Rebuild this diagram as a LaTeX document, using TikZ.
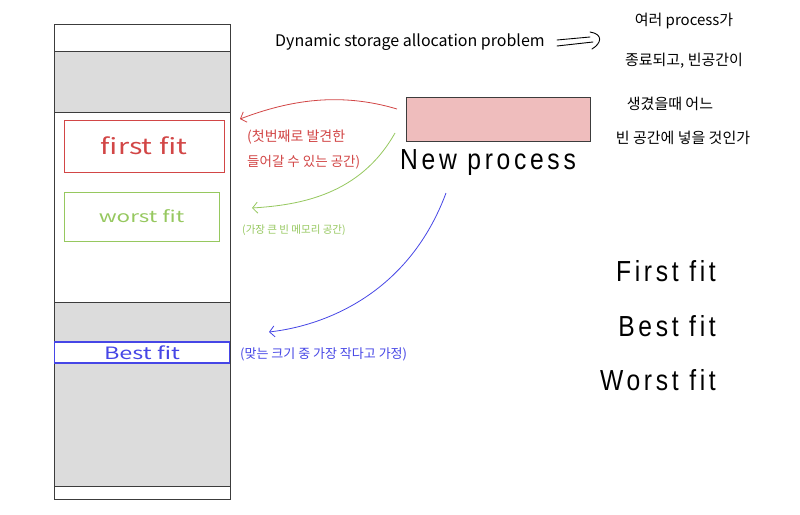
\documentclass[tikz,border=0pt]{standalone}
\usepackage{fontspec}
\setmainfont{Liberation Sans}
\newfontfamily\kr{Noto Sans CJK KR}
\newfontfamily\cond[LetterSpace=15]{Liberation Sans}
\usetikzlibrary{arrows.meta}
\definecolor{redc}{RGB}{210,70,70}
\definecolor{greenc}{RGB}{150,200,95}
\definecolor{bluec}{RGB}{70,70,230}
\definecolor{memgray}{RGB}{220,220,220}
\definecolor{pinkc}{RGB}{239,189,189}
\definecolor{edge}{RGB}{60,60,60}
\tikzset{
  memline/.style={draw=edge, line width=0.8pt},
  fitbox/.style={line width=1pt, inner sep=0pt, fill=white},
  hand/.style={font=\kr\fontsize{#1}{#1}\selectfont, inner sep=0pt},
  bigtext/.style={font=\cond\fontsize{29}{32}\selectfont, xscale=0.85, inner sep=0pt},
  curvearrow/.style={line width=0.8pt, -{Straight Barb[length=5pt,width=11pt]}},
  penline/.style={line width=0.9pt, line cap=round},
}
\begin{document}
\begin{tikzpicture}[x=1pt,y=-1pt]
\useasboundingbox (0,0) rectangle (800,514);
\fill[white] (0,0) rectangle (800,514);

% memory column
\fill[memgray] (54,51) rectangle (230,112);
\fill[memgray] (54,302) rectangle (230,486);
\draw[memline] (54,24) rectangle (230,499);
\draw[memline] (54,51) -- (230,51);
\draw[memline] (54,112) -- (230,112);
\draw[memline] (54,302) -- (230,302);
\draw[memline] (54,486) -- (230,486);

% fit boxes
\node[fitbox, draw=redc, minimum width=160pt, minimum height=52pt, text=redc,
      font=\kr\fontsize{22}{22}\selectfont] (first) at (144,146) {\scalebox{1.3}[1]{first fit}};
\node[fitbox, draw=greenc, minimum width=155pt, minimum height=49pt, text=greenc,
      font=\kr\fontsize{16}{16}\selectfont] (worst) at (141.5,216.5) {\scalebox{1.4}[1]{worst fit}};
\node[fitbox, draw=bluec, line width=1.3pt, minimum width=175pt, minimum height=21pt, text=bluec,
      font=\kr\fontsize{17}{17}\selectfont] (best) at (142,352.5) {\scalebox{1.38}[1]{Best fit}};

% new process
\node[draw=edge, line width=0.8pt, fill=pinkc, minimum width=184pt, minimum height=44pt] (np) at (498,119) {};
\node[bigtext] (nplabel) at (488,163) {New process};

% arrows
\coordinate (rs) at (397,109);
\coordinate (re) at (240,119);
\coordinate (gs) at (395,133);
\coordinate (ge) at (252,208);
\coordinate (bs) at (446,193);
\coordinate (be) at (269,332);
\draw[curvearrow, redc] (rs) .. controls (340,92) and (290,100) .. (re);
\draw[curvearrow, greenc] (gs) .. controls (360,195) and (300,205) .. (ge);
\draw[curvearrow, bluec] (bs) .. controls (410,290) and (330,325) .. (be);

% annotations
\node[hand=14, text=redc, anchor=west] (ranno1) at (247,137) {(첫번째로 발견한};
\node[hand=13.5, text=redc, anchor=west] (ranno2) at (247,162) {들어갈 수 있는 공간)};
\node[hand=10.5, text=greenc, anchor=west] (ganno) at (242,230) {(가장 큰 빈 메모리 공간)};
\node[hand=13, text=bluec, anchor=west] (banno) at (240,354) {(맞는 크기 중 가장 작다고 가정)};

% title
\node[hand=16, anchor=west] (title) at (275,42) {Dynamic storage allocation problem};
\coordinate (a1s) at (557,40);
\coordinate (a1e) at (590,37);
\coordinate (a2s) at (557,46);
\coordinate (a2e) at (593,42);
\coordinate (hs) at (590,32);
\coordinate (he) at (592,49);
\draw[penline] (a1s) -- (a1e);
\draw[penline] (a2s) -- (a2e);
\draw[penline] (hs) .. controls (603,34) and (602,43) .. (he);

% korean right text
\node[hand=15] (k1) at (684,21) {여러 process가};
\node[hand=15] (k2) at (684,61) {종료되고, 빈공간이};
\node[hand=15] (k3) at (670,104) {생겼을때 어느};
\node[hand=15] (k4) at (683,138) {빈 공간에 넣을 것인가};

% right labels
\node[bigtext, anchor=east] (l1) at (716,271) {First fit};
\node[bigtext, anchor=east] (l2) at (716,326) {Best fit};
\node[bigtext, anchor=east] (l3) at (716,380) {Worst fit};
\end{tikzpicture}
\end{document}
